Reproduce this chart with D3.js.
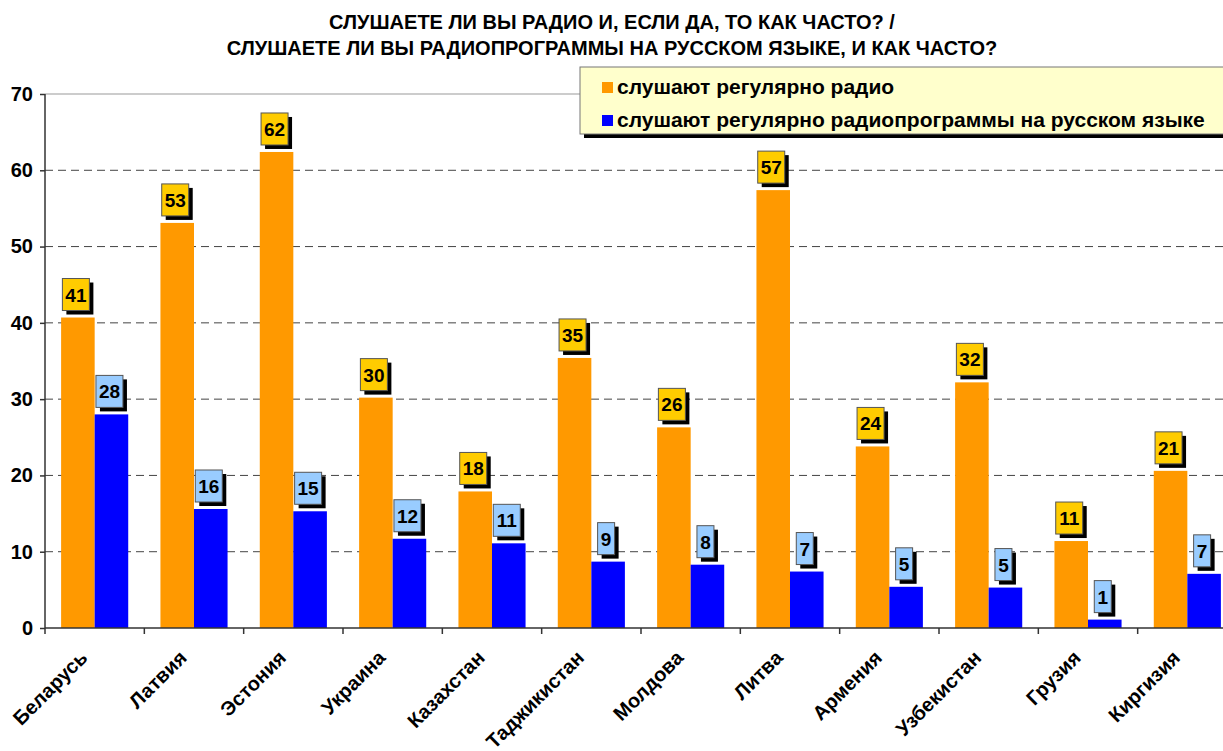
<!DOCTYPE html>
<html>
<head>
<meta charset="utf-8">
<script src="https://cdn.jsdelivr.net/npm/d3@7"></script>
<style>
  body { margin: 0; background: #fff; }
  text { font-family: "Liberation Sans", Arial, sans-serif; font-weight: bold; }
</style>
</head>
<body>
<svg id="chart"></svg>
<script>
var w = 1223;
var h = 751;

var countries = ['Беларусь', 'Латвия', 'Эстония', 'Украина', 'Казахстан', 'Таджикистан',
  'Молдова', 'Литва', 'Армения', 'Узбекистан', 'Грузия', 'Киргизия'];
var radio = [40.7, 53.1, 62.4, 30.2, 17.9, 35.4, 26.3, 57.4, 23.8, 32.2, 11.4, 20.6];
var russianRadio = [28.0, 15.6, 15.3, 11.7, 11.1, 8.7, 8.3, 7.4, 5.4, 5.3, 1.1, 7.1];
var yTicks = [0, 10, 20, 30, 40, 50, 60, 70];
var seriesNames = ['слушают регулярно радио', 'слушают регулярно радиопрограммы на русском языке'];
var titleLines = ['СЛУШАЕТЕ ЛИ ВЫ РАДИО И, ЕСЛИ ДА, ТО КАК ЧАСТО? /',
  'СЛУШАЕТЕ ЛИ ВЫ РАДИОПРОГРАММЫ НА РУССКОМ ЯЗЫКЕ, И КАК ЧАСТО?'];

var barColors = ['#FF9900', '#0000FF'];
var boxColors = ['#FFCC00', '#99CCFF'];

var svg = d3.select('#chart').attr('width', w).attr('height', h);

var x = d3.scaleBand().domain(countries).range([45, 1237]);
var xs = d3.scaleBand().domain([0, 1]).range([0, x.bandwidth()]).paddingOuter(0.48);
var y = d3.scaleLinear().domain([0, 70]).range([628, 94]);

// title
svg.selectAll('text.title')
  .data(titleLines)
  .enter()
  .append('text')
  .attr('class', 'title')
  .attr('x', 612)
  .attr('y', function (d, i) { return 29 + i * 26; })
  .attr('text-anchor', 'middle')
  .style('font-size', '20px')
  .text(function (d) { return d; });

// grid
svg.selectAll('line.grid')
  .data(yTicks.filter(function (d) { return d > 0; }))
  .enter()
  .append('line')
  .attr('class', 'grid')
  .attr('x1', 45)
  .attr('x2', w)
  .attr('y1', function (d) { return y(d); })
  .attr('y2', function (d) { return y(d); })
  .style('stroke', function (d) { return d === 70 ? '#999' : '#444'; })
  .style('stroke-width', 1)
  .style('stroke-dasharray', function (d) { return d === 70 ? null : '8,5'; });

// bars
var groups = svg.selectAll('g.country')
  .data(countries)
  .enter()
  .append('g')
  .attr('class', 'country')
  .attr('transform', function (d) { return 'translate(' + x(d) + ',0)'; });

var seriesData = [radio, russianRadio];

groups.selectAll('rect.bar')
  .data(function (d, i) { return [0, 1].map(function (s) { return { s: s, v: seriesData[s][i] }; }); })
  .enter()
  .append('rect')
  .attr('class', 'bar')
  .attr('x', function (d) { return xs(d.s); })
  .attr('width', xs.bandwidth())
  .attr('y', function (d) { return y(d.v); })
  .attr('height', function (d) { return y(0) - y(d.v); })
  .style('fill', function (d) { return barColors[d.s]; });

// axes
var yAxis = d3.axisLeft(y).tickValues(yTicks).tickSize(5).tickPadding(7);
var gy = svg.append('g').attr('transform', 'translate(45,0)').call(yAxis);
gy.select('.domain').attr('d', 'M0,' + y(70) + 'V' + y(0)).style('stroke', '#333').style('stroke-width', 1.5);
gy.selectAll('.tick line').style('stroke', '#333').style('stroke-width', 1.5);
gy.selectAll('.tick text').style('font-size', '20px').style('font-family', '"Liberation Sans", Arial, sans-serif').style('font-weight', 'bold').attr('fill', '#000');

svg.append('line')
  .attr('x1', 45).attr('x2', w)
  .attr('y1', y(0)).attr('y2', y(0))
  .style('stroke', '#333').style('stroke-width', 1.5);

svg.selectAll('line.xtick')
  .data(countries)
  .enter()
  .append('line')
  .attr('class', 'xtick')
  .attr('x1', function (d) { return x(d); })
  .attr('x2', function (d) { return x(d); })
  .attr('y1', y(0))
  .attr('y2', y(0) + 6)
  .style('stroke', '#333').style('stroke-width', 1.5);

svg.selectAll('text.xlabel')
  .data(countries)
  .enter()
  .append('text')
  .attr('class', 'xlabel')
  .attr('text-anchor', 'end')
  .attr('transform', function (d) {
    return 'translate(' + (x(d) + x.bandwidth() / 2 - 6) + ',659) rotate(-45)';
  })
  .style('font-size', '20px')
  .text(function (d) { return d; });

// value labels
var labels = groups.selectAll('g.vlabel')
  .data(function (d, i) { return [0, 1].map(function (s) { return { s: s, v: seriesData[s][i] }; }); })
  .enter()
  .append('g')
  .attr('class', 'vlabel')
  .attr('transform', function (d) {
    return 'translate(' + (xs(d.s) + xs.bandwidth() / 2 - 2) + ',' + (y(d.v) - 21) + ')';
  });

labels.each(function (d) {
  var g = d3.select(this);
  var txt = String(Math.round(d.v));
  var bw = txt.length > 1 ? 27 : 17;
  g.append('rect')
    .attr('x', -bw / 2 + 4).attr('y', -14).attr('width', bw).attr('height', 32)
    .style('fill', '#000');
  g.append('rect')
    .attr('x', -bw / 2).attr('y', -18).attr('width', bw).attr('height', 32)
    .style('fill', boxColors[d.s])
    .style('stroke', '#555').style('stroke-width', 1);
  g.append('text')
    .attr('x', 0).attr('y', 5)
    .attr('text-anchor', 'middle')
    .style('font-size', '19px')
    .text(txt);
});

// legend
var lg = svg.append('g').attr('transform', 'translate(580,67)');
lg.append('rect').attr('x', 4).attr('y', 4).attr('width', 660).attr('height', 67).style('fill', '#000');
lg.append('rect').attr('x', 0).attr('y', 0).attr('width', 660).attr('height', 67)
  .style('fill', '#FFFFCC').style('stroke', '#777').style('stroke-width', 1);

var items = lg.selectAll('g.item')
  .data(seriesNames)
  .enter()
  .append('g')
  .attr('class', 'item')
  .attr('transform', function (d, i) { return 'translate(22,' + (20 + i * 33) + ')'; });

items.append('rect')
  .attr('x', 0).attr('y', -5).attr('width', 11).attr('height', 11)
  .style('fill', function (d, i) { return barColors[i]; });

items.append('text')
  .attr('x', 15).attr('y', 7)
  .style('font-size', '21px')
  .text(function (d) { return d; });
</script>
</body>
</html>
